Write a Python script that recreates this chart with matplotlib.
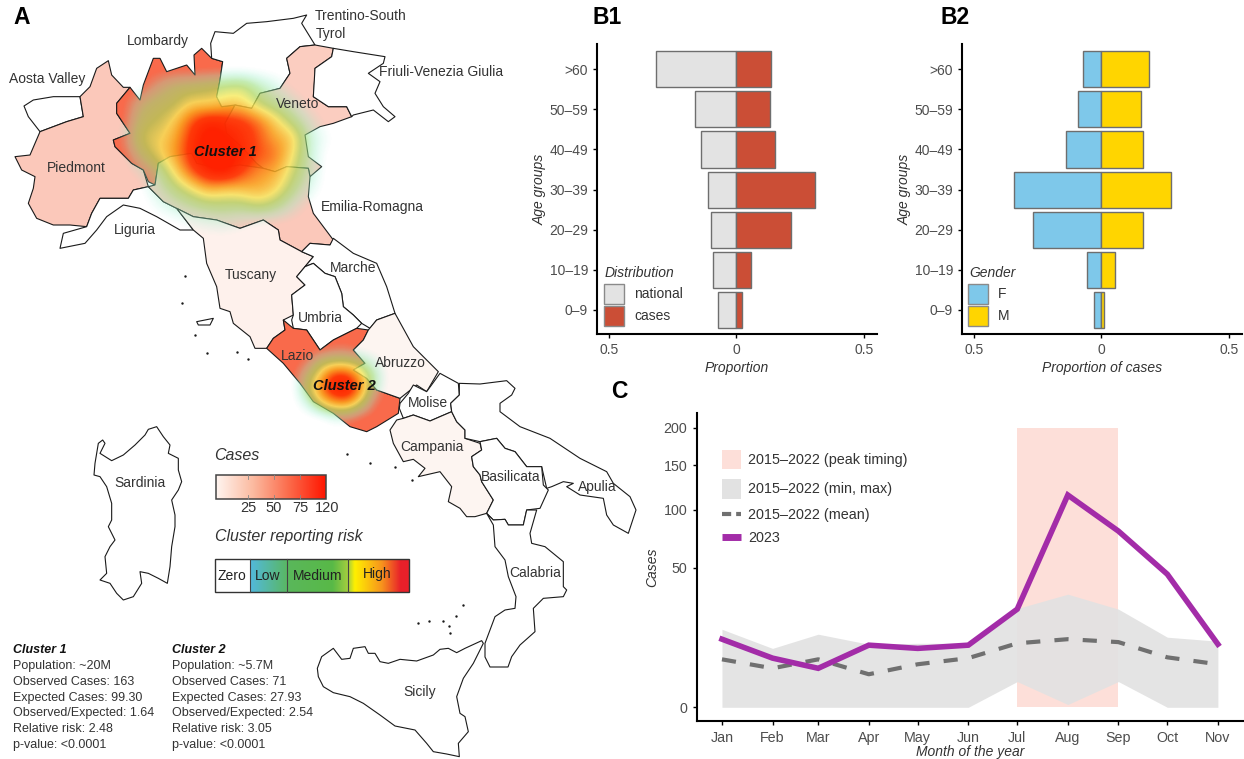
import numpy as np
import matplotlib
matplotlib.use('Agg')
import matplotlib.pyplot as plt
from matplotlib.colors import LinearSegmentedColormap
from matplotlib.patches import Rectangle

plt.rcParams['font.family'] = ['Liberation Sans', 'DejaVu Sans']

W, H = 1244, 759

# panel B
age_groups = ['0–9', '10–19', '20–29', '30–39', '40–49', '50–59', '>60']
national = [0.074, 0.094, 0.100, 0.110, 0.138, 0.162, 0.316]
cases_prop = [0.022, 0.057, 0.214, 0.307, 0.153, 0.131, 0.136]
female = [0.029, 0.056, 0.269, 0.342, 0.140, 0.093, 0.071]
male = [0.011, 0.055, 0.164, 0.274, 0.162, 0.156, 0.187]

# panel C, x is days since 1 Jan
months = ['Jan', 'Feb', 'Mar', 'Apr', 'May', 'Jun', 'Jul', 'Aug', 'Sep', 'Oct', 'Nov']
month_day = [0, 31, 59, 90, 120, 151, 181, 212, 243, 273, 304]
cases_2023 = [11.9, 6.2, 3.9, 9.9, 8.9, 9.9, 24.7, 115.5, 79.6, 45.4, 10.2]
cases_mean = [5.9, 3.9, 5.9, 2.8, 4.75, 6.2, 10.5, 11.9, 10.9, 6.4, 4.75]
cases_max = [15.6, 8.9, 13.7, 10.2, 10.5, 10.5, 25.0, 32.8, 24.7, 12.6, 11.2]
cases_min = [0, 0, 0, 0, 0, 0, 1.7, 0.02, 1.7, 0, 0]

# map outlines
# north and centre, 3x pixels from (0, 0)
aosta = [(72, 318), (100, 300), (160, 290), (240, 290), (250, 350), (200, 365), (120, 395), (85, 350)]
piedmont = [(45, 470), (90, 465), (120, 395), (200, 365), (250, 350), (240, 290), (270, 260), (290, 205),
            (325, 182), (335, 225), (370, 262), (390, 262), (350, 310), (350, 340), (390, 400), (340, 420),
            (345, 440), (395, 490), (430, 510), (445, 560), (400, 570), (385, 595), (300, 595), (275, 640),
            (260, 680), (210, 675), (160, 675), (110, 655), (85, 610), (100, 565), (105, 530), (65, 510)]
lombardy = [(350, 310), (375, 280), (390, 262), (420, 300), (430, 255), (460, 175), (480, 175), (500, 215),
            (560, 195), (585, 225), (582, 165), (605, 145), (635, 175), (668, 185), (660, 240), (650, 290),
            (665, 320), (705, 315), (675, 370), (680, 400), (725, 440), (770, 490), (790, 505), (720, 495),
            (650, 505), (590, 490), (575, 460), (510, 470), (475, 490), (465, 555), (445, 545), (430, 510),
            (395, 490), (345, 440), (340, 420), (390, 400), (350, 340)]
trentino = [(635, 175), (632, 130), (645, 95), (700, 100), (740, 70), (800, 65), (880, 55), (920, 45),
            (905, 70), (945, 135), (900, 140), (860, 175), (870, 220), (840, 265), (780, 280), (755, 325),
            (705, 315), (665, 320), (650, 290), (660, 240), (668, 185)]
veneto = [(860, 175), (900, 140), (945, 135), (1000, 145), (995, 170), (945, 205), (945, 225), (940, 290),
          (985, 320), (1040, 320), (1055, 350), (1000, 370), (960, 380), (915, 405), (925, 470), (965, 500),
          (930, 530), (925, 505), (860, 500), (825, 515), (790, 505), (770, 490), (725, 440), (680, 400),
          (675, 370), (705, 315), (755, 325), (780, 280), (840, 265), (870, 220)]
friuli = [(1000, 145), (1060, 155), (1155, 170), (1150, 190), (1105, 220), (1140, 245), (1125, 280),
          (1150, 320), (1185, 350), (1165, 365), (1120, 330), (1060, 345), (1055, 350), (1040, 320),
          (985, 320), (940, 290), (945, 205), (995, 170)]
liguria = [(180, 745), (190, 700), (260, 680), (275, 640), (300, 595), (385, 595), (400, 570), (445, 560),
           (490, 605), (530, 625), (580, 690), (540, 690), (470, 650), (420, 625), (370, 615), (320, 650),
           (290, 690), (255, 730)]
emilia = [(465, 555), (475, 490), (510, 470), (575, 460), (590, 490), (650, 505), (720, 495), (790, 505),
          (825, 515), (860, 500), (925, 505), (930, 530), (925, 590), (940, 640), (1000, 720), (990, 735),
          (930, 730), (905, 755), (840, 720), (835, 690), (790, 660), (720, 685), (650, 660), (580, 650),
          (530, 625), (490, 605), (445, 560)]
tuscany = [(530, 625), (580, 650), (650, 660), (720, 685), (790, 660), (835, 690), (840, 720), (905, 755),
           (940, 770), (915, 800), (890, 830), (915, 855), (875, 885), (880, 945), (850, 960), (855, 990),
           (820, 1015), (800, 1045), (765, 1045), (750, 1010), (700, 970), (690, 935), (660, 925), (650, 860),
           (620, 790), (610, 715), (580, 690)]
marche = [(905, 755), (930, 730), (990, 735), (1000, 715), (1060, 760), (1130, 790), (1160, 860), (1185, 940),
          (1130, 960), (1110, 985), (1085, 970), (1060, 945), (1030, 920), (1025, 880), (1005, 830), (975, 820),
          (940, 790), (915, 800), (940, 770)]
umbria = [(875, 885), (915, 855), (890, 830), (915, 800), (940, 790), (975, 820), (1005, 830), (1025, 880),
          (1030, 920), (1060, 945), (1085, 970), (1070, 985), (1000, 1020), (960, 1050), (920, 990), (880, 985),
          (875, 960), (880, 945)]
lazio = [(800, 1045), (820, 1015), (855, 990), (850, 960), (880, 985), (920, 990), (960, 1050), (1000, 1020),
         (1070, 985), (1105, 990), (1090, 1020), (1060, 1050), (1095, 1090), (1060, 1110), (1100, 1135),
         (1130, 1170), (1200, 1195), (1195, 1240), (1130, 1280), (1100, 1295), (1050, 1280), (1000, 1240),
         (940, 1205), (900, 1150), (850, 1090)]
abruzzo = [(1105, 990), (1130, 960), (1185, 940), (1240, 1040), (1315, 1115), (1280, 1175), (1250, 1155),
           (1200, 1195), (1130, 1170), (1100, 1135), (1060, 1110), (1095, 1090), (1060, 1050), (1090, 1020)]
# south, 3x pixels from (380, 360)
molise = [(180, 40), (235, 70), (238, 105), (212, 130), (215, 155), (180, 170), (150, 183), (100, 165),
          (70, 175), (58, 145), (60, 130), (85, 100), (100, 75), (140, 95)]
campania = [(70, 175), (100, 165), (150, 183), (180, 170), (215, 155), (230, 185), (255, 210), (255, 235),
            (300, 250), (305, 270), (275, 290), (280, 320), (300, 345), (305, 365), (340, 420), (320, 460),
            (285, 470), (260, 470), (240, 445), (205, 425), (215, 380), (180, 335), (115, 350), (135, 325),
            (100, 298), (70, 305), (40, 250), (30, 210), (50, 180)]
apulia = [(238, 70), (300, 72), (380, 62), (405, 85), (395, 105), (360, 130), (360, 155), (420, 200), (510, 235),
          (600, 295), (680, 335), (700, 370), (750, 410), (768, 450), (745, 520), (700, 495), (680, 465),
          (670, 415), (600, 405), (560, 380), (580, 370), (550, 365), (515, 380), (500, 385), (485, 320),
          (440, 320), (405, 275), (375, 265), (350, 235), (300, 245), (255, 235), (255, 210), (230, 185),
          (215, 155), (212, 130), (238, 105)]
basilicata = [(300, 245), (350, 235), (375, 265), (405, 275), (440, 320), (485, 320), (490, 375), (505, 390),
              (480, 445), (440, 450), (430, 495), (385, 495), (375, 478), (340, 480), (320, 460), (340, 420),
              (305, 365), (300, 345), (280, 320), (275, 290), (305, 270)]
calabria = [(340, 480), (375, 478), (385, 495), (430, 495), (440, 450), (470, 450), (450, 520), (455, 550),
            (495, 560), (550, 605), (550, 680), (560, 690), (550, 710), (490, 715), (460, 745), (465, 815),
            (420, 855), (395, 890), (384, 921), (330, 921), (315, 891), (315, 850), (345, 770), (375, 750),
            (405, 745), (408, 710), (385, 650), (375, 600), (345, 560), (340, 495), (320, 460)]
# Sicily, 3x pixels from (300, 600)
sicily = [(55, 230), (52, 205), (65, 170), (100, 145), (125, 178), (150, 175), (160, 145), (195, 140), (205, 160),
          (225, 160), (240, 185), (265, 190), (300, 178), (350, 183), (400, 165), (420, 148), (445, 145),
          (470, 158), (495, 145), (545, 122), (550, 130), (520, 190), (490, 235), (470, 290), (480, 340),
          (495, 350), (505, 395), (475, 430), (478, 470), (440, 462), (400, 455), (380, 430), (345, 390),
          (285, 378), (240, 345), (190, 310), (150, 290), (100, 278), (70, 260)]
# Sardinia, 3x pixels from (80, 420)
sardinia = [(50, 100), (55, 70), (68, 60), (75, 70), (60, 100), (95, 122), (130, 105), (165, 75), (195, 45),
            (205, 28), (230, 20), (250, 50), (270, 75), (265, 100), (295, 115), (295, 150), (305, 185), (295, 210),
            (275, 240), (285, 285), (285, 320), (275, 380), (270, 440), (262, 490), (235, 475), (205, 460),
            (180, 455), (185, 490), (160, 530), (130, 540), (110, 520), (90, 490), (60, 480), (80, 460), (75, 410),
            (90, 380), (105, 360), (85, 320), (95, 300), (95, 250), (80, 200), (60, 170), (42, 165), (45, 130)]
elba = [(590, 965), (640, 955), (630, 975), (595, 975)]
# small islands, plain pixels
islet_x = [185, 182, 195, 207, 237, 248, 347, 370, 395, 412, 418, 429, 443, 449, 450, 456, 463]
islet_y = [276, 303, 335, 353, 352, 359, 454, 463, 467, 480, 623, 621, 621, 626, 633, 616, 605]

c1_x = [325, 375, 425, 475, 525, 575, 625, 675, 725, 775, 825, 875, 925, 975, 1025]
c1_y = [165, 215, 265, 315, 365, 415, 465, 515, 565, 615, 665, 715]
c1_level = [[0, 0, 0, 0, 0, 0, 0, 0, 0, 0, 0, 0, 0, 0, 0],
            [0, 0, 0, 0, 0, 0, 0, 0, 0, 0, 0, 0, 0, 0, 0],
            [0, 0, 0, .15, .28, .3, .35, .4, .45, .25, .12, 0, 0, 0, 0],
            [0, 0, .22, .3, .32, .5, .45, .55, .55, .35, .25, .15, 0, 0, 0],
            [0, 0, .3, .35, .5, .85, 1.1, 1, .95, .8, .55, .3, .12, 0, 0],
            [0, .05, .4, .45, .6, .95, 1.2, 1.1, 1, .85, .65, .6, .18, .05, 0],
            [0, 0, .25, .45, .65, 1, 1.2, 1.2, 1.05, .85, .8, .5, .18, 0, 0],
            [0, 0, .05, .2, .5, .85, 1.1, 1.2, .9, .7, .65, .4, .18, 0, 0],
            [0, 0, 0, .15, .3, .45, .65, .55, .6, .65, .55, .3, .1, 0, 0],
            [0, 0, 0, .05, .15, .22, .28, .3, .28, .4, .3, .12, 0, 0, 0],
            [0, 0, 0, 0, 0, .05, .08, .1, .05, 0, 0, 0, 0, 0, 0],
            [0, 0, 0, 0, 0, 0, 0, 0, 0, 0, 0, 0, 0, 0, 0]]
c2_x = [880, 920, 960, 1000, 1040, 1080, 1120, 1160]
c2_y = [1010, 1050, 1090, 1130, 1170, 1210, 1250, 1290]
c2_level = [[0, 0, 0, 0, 0, 0, 0, 0],
            [0, 0, 0, .05, .05, 0, 0, 0],
            [0, .05, .32, .4, .4, .3, .1, 0],
            [0, .25, .55, 1, 1, .6, .25, 0],
            [0, .3, .7, 1.1, 1.15, .7, .15, 0],
            [0, .1, .4, .6, .65, .35, .03, 0],
            [0, 0, 0, .08, .08, 0, 0, 0],
            [0, 0, 0, 0, 0, 0, 0, 0]]

stats_1 = ['Population: ~20M', 'Observed Cases: 163', 'Expected Cases: 99.30', 'Observed/Expected: 1.64',
           'Relative risk: 2.48', 'p-value: <0.0001']
stats_2 = ['Population: ~5.7M', 'Observed Cases: 71', 'Expected Cases: 27.93', 'Observed/Expected: 2.54',
           'Relative risk: 3.05', 'p-value: <0.0001']

TICK = '#4d4d4d'
TXT = '#333333'


def px_axes(x0, y0, x1, y1):
    return fig.add_axes([x0 / W, 1 - y1 / H, (x1 - x0) / W, (y1 - y0) / H], facecolor='none')


def z(points, ox=0, oy=0):
    return [ox + p[0] / 3 for p in points], [oy + p[1] / 3 for p in points]


fig = plt.figure(figsize=(W / 100, H / 100), dpi=100)

# whole figure in pixel coordinates, for the map, legends and labels
base = fig.add_axes([0, 0, 1, 1])
base.axis('off')

PIED = '#fbc8ba'
HOT = '#f96a4b'
PALE = '#fef1ec'
PALER = '#fdf5f1'
regions = [(aosta, 0, 0, 'white'), (piedmont, 0, 0, PIED), (lombardy, 0, 0, HOT), (trentino, 0, 0, 'white'),
           (veneto, 0, 0, '#fbcdc0'), (friuli, 0, 0, 'white'), (liguria, 0, 0, 'white'), (emilia, 0, 0, PIED),
           (tuscany, 0, 0, PALE), (marche, 0, 0, 'white'), (umbria, 0, 0, 'white'), (lazio, 0, 0, HOT),
           (abruzzo, 0, 0, PALER), (molise, 380, 360, 'white'), (campania, 380, 360, PALER),
           (apulia, 380, 360, 'white'), (basilicata, 380, 360, 'white'), (calabria, 380, 360, 'white'),
           (sicily, 300, 600, 'white'), (sardinia, 80, 420, 'white'), (elba, 0, 0, 'white')]
for pts, ox, oy, col in regions:
    xs, ys = z(pts, ox, oy)
    base.fill(xs, ys, facecolor=col, edgecolor='#1a1a1a', linewidth=0.8, joinstyle='round', zorder=1)
base.scatter(islet_x, islet_y, s=3, color='#1a1a1a', linewidths=0, zorder=1)

risk_cmap = LinearSegmentedColormap.from_list('risk', [
    (0, (0.55, 0.95, 0.85, 0)), (0.09, (0.6, 0.93, 0.75, 0.35)), (0.2, (0.62, 0.88, 0.5, 0.6)),
    (0.3, (0.68, 0.84, 0.36, 0.72)), (0.42, (0.97, 0.92, 0.36, 0.8)), (0.58, (0.98, 0.65, 0.12, 0.85)),
    (0.8, (1, 0.22, 0.02, 0.95)), (1, (1, 0.13, 0, 1))])
for gx, gy, lev in [(c1_x, c1_y, c1_level), (c2_x, c2_y, c2_level)]:
    sx = (gx[1] - gx[0]) / 6
    sy = (gy[1] - gy[0]) / 6
    base.imshow(np.array(lev), extent=(gx[0] / 3 - sx, gx[-1] / 3 + sx, gy[-1] / 3 + sy, gy[0] / 3 - sy),
                cmap=risk_cmap, vmin=0.02, vmax=1.1, interpolation='bicubic', aspect='auto', zorder=2)

map_labels = [('Trentino-South', 361, 16), ('Tyrol', 331, 34), ('Lombardy', 158, 41), ('Aosta Valley', 47, 79),
              ('Friuli-Venezia Giulia', 441, 72), ('Veneto', 298, 104), ('Piedmont', 76, 168),
              ('Emilia-Romagna', 372, 207), ('Liguria', 135, 230), ('Tuscany', 251, 275), ('Marche', 353, 268),
              ('Umbria', 320, 318), ('Lazio', 297, 356), ('Abruzzo', 400, 363), ('Molise', 428, 403),
              ('Campania', 432, 447), ('Basilicata', 511, 477), ('Apulia', 597, 487), ('Calabria', 535, 573),
              ('Sicily', 420, 692), ('Sardinia', 140, 483)]
for name, x, y in map_labels:
    base.text(x, y, name, ha='center', va='center', fontsize=10, color=TXT, zorder=5)
for name, x, y in [('Cluster 1', 225, 152), ('Cluster 2', 344, 386)]:
    base.text(x, y, name, ha='center', va='center', fontsize=10.5, style='italic', weight='bold',
              color='#111111', zorder=5)

for name, x, y in [('A', 13, 18), ('B1', 593, 18), ('B2', 940, 18), ('C', 611, 391)]:
    base.text(x, y, name, ha='left', va='center', fontsize=16.5, weight='bold', color='black')

# cases colour bar
cases_cmap = LinearSegmentedColormap.from_list('cases', ['#fff5f0', '#fcbba1', '#fb6a4a', '#ff1500'])
base.imshow(np.linspace(0, 1, 256)[None, :], extent=(216, 326, 499, 475), cmap=cases_cmap, aspect='auto', zorder=1)
base.add_patch(Rectangle((216, 475), 110, 24, fill=False, edgecolor='#444444', linewidth=1.1, zorder=2))
for lab, x in [('25', 248), ('50', 274), ('75', 300), ('120', 327)]:
    if lab != '120':
        base.plot([x, x], [475, 479], color='#888888', lw=0.6, zorder=2)
        base.plot([x, x], [495, 499], color='#888888', lw=0.6, zorder=2)
    base.text(x, 508, lab, ha='center', va='center', fontsize=10.5, color=TXT)
base.text(214, 456, 'Cases', ha='left', va='center', fontsize=11.5, style='italic', color=TXT)
base.text(215, 537, 'Cluster reporting risk', ha='left', va='center', fontsize=11.5, style='italic', color=TXT)

# risk bar
bar_cmap = LinearSegmentedColormap.from_list('bar', [
    (0, '#52b9dc'), (0.25, '#5ab75a'), (0.52, '#58b947'), (0.62, '#a6cf3e'), (0.66, '#fff000'),
    (0.83, '#f7941d'), (0.95, '#e8202a'), (1, '#e8202a')])
base.imshow(np.linspace(0, 1, 256)[None, :], extent=(250, 409, 592, 559), cmap=bar_cmap, aspect='auto', zorder=1)
base.add_patch(Rectangle((215, 559), 194, 33, fill=False, edgecolor='#333333', linewidth=1.0, zorder=2))
for x in [250, 287, 348]:
    base.plot([x, x], [559, 592], color='#444444', lw=0.8, zorder=2)
for lab, x, y in [('Zero', 232, 576), ('Low', 268, 576), ('Medium', 318, 576), ('High', 377, 574)]:
    base.text(x, y, lab, ha='center', va='center', fontsize=10, color='#222222', zorder=3)

# cluster summaries
for x, title, lines in [(13, 'Cluster 1', stats_1), (172, 'Cluster 2', stats_2)]:
    base.text(x, 650, title, ha='left', va='center', fontsize=9, style='italic', weight='bold', color='#111111')
    for i, line in enumerate(lines):
        base.text(x, 666 + i * 15.8, line, ha='left', va='center', fontsize=9, color=TXT)


def pyramid(ax, left, right, left_col, right_col, xlabel):
    pos = np.arange(1, 8)
    ax.barh(pos, -np.array(left), height=0.9, color=left_col, edgecolor='#6e6e6e', linewidth=1.0)
    ax.barh(pos, right, height=0.9, color=right_col, edgecolor='#6e6e6e', linewidth=1.0)
    ax.set_yticks(pos, age_groups)
    ax.set_ylim(0.4, 7.63)
    ax.set_xlim(-0.548, 0.552)
    ax.set_xticks([-0.5, 0, 0.5], ['0.5', '0', '0.5'])
    ax.set_xlabel(xlabel, style='italic', fontsize=10, color=TXT, labelpad=3)
    ax.set_ylabel('Age groups', style='italic', fontsize=10, color=TXT, labelpad=2)
    ax.tick_params(labelsize=10, labelcolor=TICK, length=3, width=1, pad=3.5)
    for s in ['top', 'right']:
        ax.spines[s].set_visible(False)
    for s in ['left', 'bottom']:
        ax.spines[s].set_linewidth(1.5)


ax1 = px_axes(597, 44, 877, 334)
pyramid(ax1, national, cases_prop, '#e3e3e3', '#cb4e36', 'Proportion')
ax2 = px_axes(962, 44, 1242, 334)
pyramid(ax2, female, male, '#7ec8ea', '#ffd500', 'Proportion of cases')

# pyramid legends
for x0, title, tx, labs, cols in [(604, 'Distribution', 605, ['national', 'cases'], ['#e3e3e3', '#cb4e36']),
                                  (968, 'Gender', 969, ['F', 'M'], ['#7ec8ea', '#ffd500'])]:
    base.text(tx, 273, title, ha='left', va='center', fontsize=10, style='italic', color=TXT)
    for y0, lab, col in zip([284, 306], labs, cols):
        base.add_patch(Rectangle((x0, y0), 20, 20, facecolor=col, edgecolor='#8a8a8a', linewidth=1.0))
        base.text(x0 + 30, y0 + 10.5, lab, ha='left', va='center', fontsize=10, color=TXT)

# panel C on a square root axis
ax3 = px_axes(697, 413, 1244, 721)
ax3.set_yscale('function', functions=(lambda v: np.sign(v) * np.sqrt(np.abs(v)),
                                      lambda u: np.sign(u) * u ** 2))
ax3.fill_between([month_day[6], month_day[8]], 0, 200, color='#fddfd9', linewidth=0, zorder=1)
ax3.fill_between(month_day, cases_min, cases_max, color='#e2e2e2', alpha=0.92, linewidth=0, zorder=2)
ax3.plot(month_day, cases_mean, color='#707070', lw=3, dashes=(3.4, 3.4), zorder=3)
ax3.plot(month_day, cases_2023, color='#a32ca8', lw=4, solid_joinstyle='miter', zorder=4)
ax3.set_xlim(-15.3, 320)
ax3.set_ylim(-0.48, 222)
ax3.set_xticks(month_day, months)
ax3.set_yticks([0, 50, 100, 150, 200], ['0', '50', '100', '150', '200'])
ax3.minorticks_off()
ax3.set_xlabel('Month of the year', style='italic', fontsize=10, color=TXT, labelpad=0)
ax3.set_ylabel('Cases', style='italic', fontsize=10, color=TXT, labelpad=3)
ax3.tick_params(labelsize=10.3, labelcolor=TICK, length=3, width=1, pad=4)
for s in ['top', 'right']:
    ax3.spines[s].set_visible(False)
for s in ['left', 'bottom']:
    ax3.spines[s].set_linewidth(1.5)

# panel C legend
base.add_patch(Rectangle((722, 450), 19, 19, facecolor='#fddfd9', edgecolor='none'))
base.add_patch(Rectangle((722, 479), 19, 20, facecolor='#e2e2e2', edgecolor='none'))
base.plot([722, 741], [514, 514], color='#707070', lw=3, dashes=(2.2, 1.2))
base.plot([722, 741], [537, 537], color='#a32ca8', lw=5, solid_capstyle='butt')
for lab, y in [('2015–2022 (peak timing)', 460), ('2015–2022 (min, max)', 489),
               ('2015–2022 (mean)', 515), ('2023', 538)]:
    base.text(748, y, lab, ha='left', va='center', fontsize=10.4, color=TXT)

base.set_xlim(0, W)
base.set_ylim(H, 0)

fig.savefig('out.png', dpi=100)
